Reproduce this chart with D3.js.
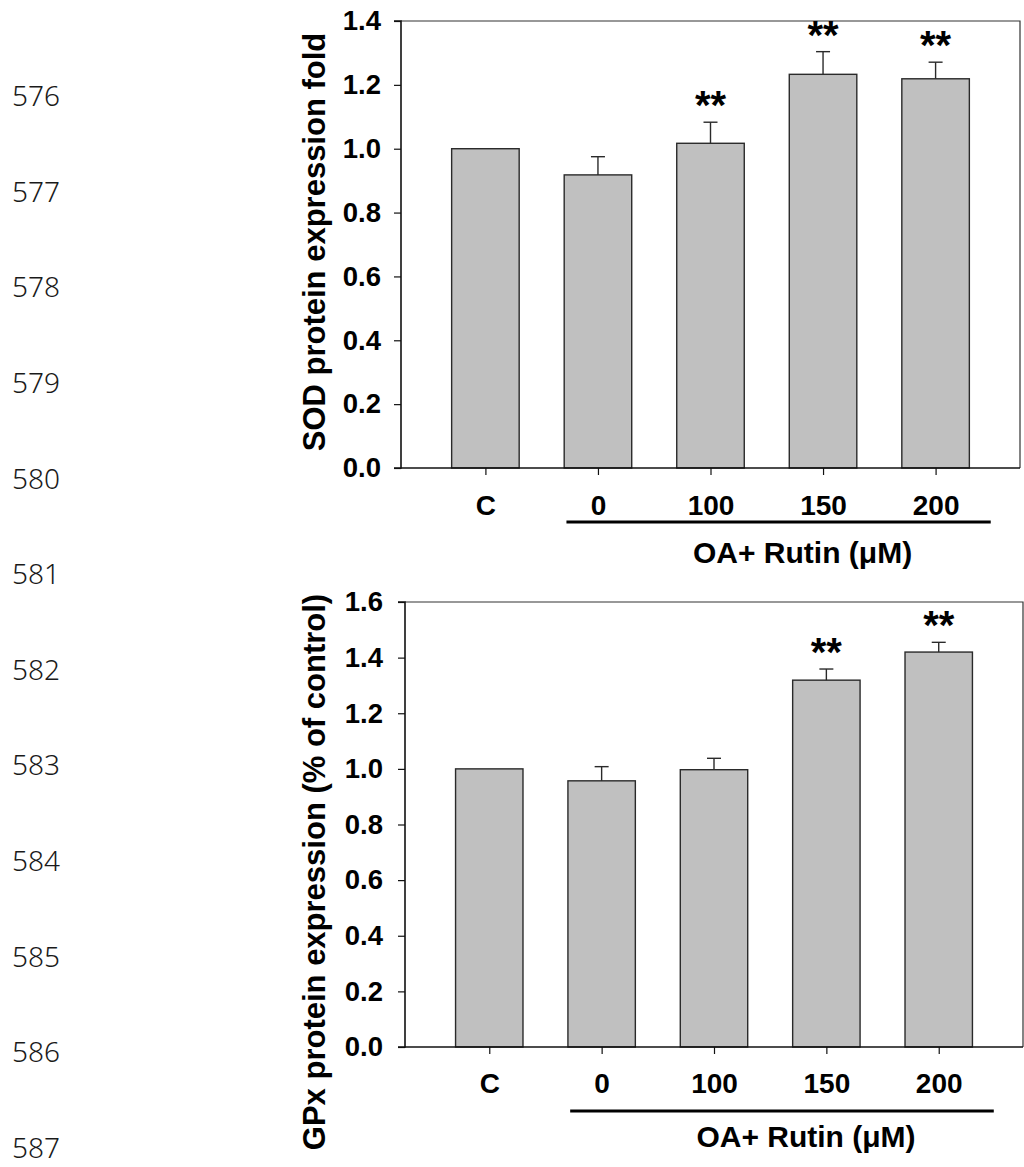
<!DOCTYPE html>
<html>
<head>
<meta charset="utf-8">
<script src="https://cdn.jsdelivr.net/npm/d3@7"></script>
<style>
  html, body { margin: 0; padding: 0; background: #fff; }
  svg { display: block; }
</style>
</head>
<body>
<svg id="chart" width="1024" height="1167"></svg>
<script>
// ---------------- DATA ----------------
const categories = ["C", "0", "100", "150", "200"];
const groupedCategories = ["0", "100", "150", "200"];
const groupLabel = "OA+ Rutin (\u03bcM)";

const sodMean = [1.0, 0.918, 1.017, 1.233, 1.219];
const sodErr  = [0, 0.057, 0.066, 0.071, 0.052];
const sodSig  = ["", "", "**", "**", "**"];
const sodTicks = [0.0, 0.2, 0.4, 0.6, 0.8, 1.0, 1.2, 1.4];
const sodTitle = "SOD protein expression fold";

const gpxMean = [1.0, 0.957, 0.997, 1.319, 1.420];
const gpxErr  = [0, 0.051, 0.041, 0.040, 0.035];
const gpxSig  = ["", "", "", "**", "**"];
const gpxTicks = [0.0, 0.2, 0.4, 0.6, 0.8, 1.0, 1.2, 1.4, 1.6];
const gpxTitle = "GPx protein expression (% of control)";

const lineNumbers = [576, 577, 578, 579, 580, 581, 582, 583, 584, 585, 586, 587];

// ---------------- DRAW ----------------
const svg = d3.select("#chart");
const FONT = "Arial, 'Liberation Sans', Helvetica, sans-serif";

// manuscript line numbers
const lineY = d3.scaleLinear().domain([576, 587]).range([106, 1158]);
svg.append("g").selectAll("text").data(lineNumbers).join("text")
  .attr("x", 12).attr("y", d => lineY(d))
  .attr("font-family", "'Noto Sans', 'Open Sans', sans-serif")
  .attr("font-weight", 300)
  .attr("font-size", 28)
  .attr("fill", "#1a1a1a")
  .text(d => d);

function panel(cfg) {
  const g = svg.append("g");
  const x = d3.scalePoint().domain(categories).range([cfg.x0, cfg.x1]).padding(0.75);
  const y = d3.scaleLinear().domain([0, cfg.yMax]).range([cfg.y1, cfg.y0]);
  const step = x.step();
  const bw = step * 0.6;

  // frame (top + right)
  g.append("path")
    .attr("d", `M${cfg.x0},${cfg.y0}H${cfg.x1}V${cfg.y1}`)
    .attr("fill", "none").attr("stroke", "#333").attr("stroke-width", 1.2);

  // bars
  g.append("g").selectAll("rect").data(categories).join("rect")
    .attr("x", d => x(d) - bw / 2)
    .attr("y", (d, i) => y(cfg.mean[i]))
    .attr("width", bw)
    .attr("height", (d, i) => y(0) - y(cfg.mean[i]))
    .attr("fill", "#c0c0c0")
    .attr("stroke", "#2a2a2a")
    .attr("stroke-width", 1.4);

  // error bars (upper only)
  const eb = g.append("g").attr("stroke", "#2a2a2a").attr("stroke-width", 1.4);
  categories.forEach((c, i) => {
    if (cfg.err[i] <= 0) return;
    const top = y(cfg.mean[i] + cfg.err[i]);
    eb.append("line").attr("x1", x(c)).attr("x2", x(c))
      .attr("y1", y(cfg.mean[i])).attr("y2", top);
    eb.append("line").attr("x1", x(c) - 7).attr("x2", x(c) + 7)
      .attr("y1", top).attr("y2", top);
  });

  // significance
  g.append("g").selectAll("text").data(categories).join("text")
    .attr("x", d => x(d))
    .attr("y", (d, i) => y(cfg.mean[i] + cfg.err[i]) - 3)
    .attr("text-anchor", "middle")
    .attr("font-family", FONT).attr("font-weight", "bold").attr("font-size", 40)
    .attr("fill", "#000")
    .text((d, i) => cfg.sig[i]);

  // y axis
  const ya = g.append("g").attr("transform", `translate(${cfg.x0},0)`)
    .call(d3.axisLeft(y).tickValues(cfg.ticks).tickFormat(d3.format(".1f"))
      .tickSize(7).tickPadding(cfg.tickPad));
  ya.select(".domain").attr("stroke", "#111").attr("stroke-width", 1.6)
    .attr("d", `M-7,${cfg.y0}H0V${cfg.y1}H-7`);
  ya.selectAll(".tick line").attr("stroke", "#111").attr("stroke-width", 1.2);
  ya.selectAll(".tick text").attr("font-family", FONT).attr("font-weight", "bold")
    .attr("font-size", 27.5).attr("fill", "#000");

  // x axis
  const xa = g.append("g").attr("transform", `translate(0,${cfg.y1})`)
    .call(d3.axisBottom(x).tickSize(7).tickPadding(cfg.xPad));
  xa.select(".domain").attr("stroke", "#111").attr("stroke-width", 1.6)
    .attr("d", `M${cfg.x0},0H${cfg.x1}`);
  xa.selectAll(".tick line").attr("stroke", "#111").attr("stroke-width", 1.2);
  xa.selectAll(".tick text").attr("font-family", FONT).attr("font-weight", "bold")
    .attr("font-size", 28).attr("fill", "#000");

  // group underline + label
  const lx0 = x(groupedCategories[0]) - 0.28 * step;
  const lx1 = x(groupedCategories[groupedCategories.length - 1]) + 0.49 * step;
  g.append("line").attr("x1", lx0).attr("x2", lx1)
    .attr("y1", cfg.y1 + cfg.lineOff).attr("y2", cfg.y1 + cfg.lineOff)
    .attr("stroke", "#000").attr("stroke-width", 3);
  g.append("text")
    .attr("x", (lx0 + lx1) / 2 + 24)
    .attr("y", cfg.y1 + cfg.titleOff)
    .attr("text-anchor", "middle")
    .attr("font-family", FONT).attr("font-weight", "bold").attr("font-size", 30)
    .attr("fill", "#000")
    .text(groupLabel);

  // y title
  g.append("text")
    .attr("transform", `translate(${cfg.ytX},${cfg.ytY}) rotate(-90)`)
    .attr("text-anchor", "middle")
    .attr("font-family", FONT).attr("font-weight", "bold").attr("font-size", 31)
    .attr("fill", "#000")
    .text(cfg.title);
}

panel({
  x0: 401, x1: 1020, y0: 21, y1: 468, yMax: 1.4,
  mean: sodMean, err: sodErr, sig: sodSig, ticks: sodTicks, title: sodTitle,
  tickPad: 13, xPad: 20, lineOff: 54, titleOff: 95, ytX: 325, ytY: 242
});
panel({
  x0: 405, x1: 1023, y0: 602, y1: 1047, yMax: 1.6,
  mean: gpxMean, err: gpxErr, sig: gpxSig, ticks: gpxTicks, title: gpxTitle,
  tickPad: 15, xPad: 19, lineOff: 64, titleOff: 100, ytX: 325, ytY: 872
});
</script>
</body>
</html>
